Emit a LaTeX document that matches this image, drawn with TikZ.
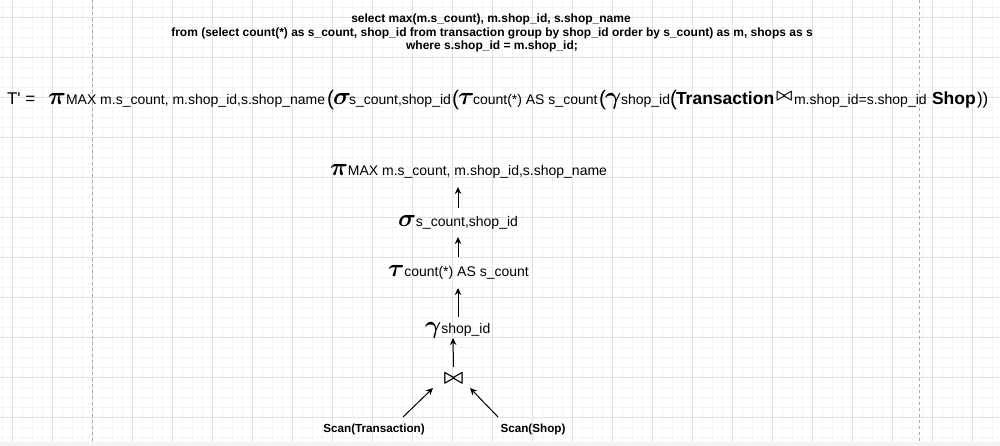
\documentclass[tikz,border=0pt]{standalone}
\usepackage{amsmath}
\usepackage{fontspec}
\setmainfont{Liberation Sans}[Ligatures=TeXOff]
\usetikzlibrary{arrows.meta,calc}
\definecolor{minorgrid}{HTML}{F5F5F5}
\definecolor{majorgrid}{HTML}{E1E1E1}
\definecolor{pagedash}{HTML}{A8A8A8}
\definecolor{bandgrey}{HTML}{F3F3F3}
\newcommand{\fsz}[1]{\fontsize{#1}{#1}\selectfont}
\newcommand{\gk}[1]{{\fsz{24}$\boldsymbol{#1}$}}
\newcommand{\bwt}{$\boldsymbol{\bowtie}$}
\tikzset{
  txt/.style={inner sep=0pt, outer sep=0pt, anchor=base west, text=black},
  sub/.style={txt, font=\fsz{14}},
  greek/.style={txt},
  paren/.style={txt, font=\fsz{21}},
  bigbold/.style={txt, font=\fsz{17.5}\bfseries},
  sql/.style={inner sep=0pt, anchor=base, font=\fsz{12}\bfseries},
  scanlbl/.style={inner sep=0pt, anchor=base, font=\fsz{11.7}\bfseries},
  arr/.style={draw=black, line width=1pt, -{Stealth[length=7pt,width=6.5pt]}},
  minorline/.style={draw=minorgrid, line width=1pt},
  majorline/.style={draw=majorgrid, line width=1pt},
}
\begin{document}
\begin{tikzpicture}[x=1pt,y=-1pt]
\useasboundingbox (0,0) rectangle (1000,446);
\fill[white] (0,0) rectangle (1000,446);
% grid
\foreach \i in {0,...,99} { \draw[minorline] ({2.3+10*\i},0) -- ({2.3+10*\i},446); }
\foreach \j in {0,...,43} { \draw[minorline] (0,{7.3+10*\j}) -- (1000,{7.3+10*\j}); }
\foreach \i in {0,...,24} { \draw[majorline] ({12.3+40*\i},0) -- ({12.3+40*\i},446); }
\foreach \j in {0,...,10} { \draw[majorline] (0,{17.3+40*\j}) -- (1000,{17.3+40*\j}); }
\draw[pagedash, line width=1pt, dash pattern=on 3pt off 3pt] (92.3,0) -- (92.3,446);
\draw[pagedash, line width=1pt, dash pattern=on 3pt off 3pt] (919,0) -- (919,446);
\fill[bandgrey] (0,442) rectangle (1000,446);

% SQL query
\node[sql] (q1) at (491,23) {select max(m.s\_count), m.shop\_id, s.shop\_name};
\node[sql] (q2) at (492,37) {from (select count(*) as s\_count, shop\_id from transaction group by shop\_id order by s\_count) as m, shops as s};
\node[sql] (q3) at (492,50) {where s.shop\_id = m.shop\_id;};

% formula
\node[txt, font=\fsz{17}] (ft) at (7,105) {T' =};
\node[greek] (fpi) at (48,105) {\gk{\pi}};
\node[sub] (fpis) at (66,105) {MAX m.s\_count, m.shop\_id,s.shop\_name};
\node[paren] (fp1) at (327,106) {(};
\node[greek] (fsig) at (333,105) {\gk{\sigma}};
\node[sub] (fsigs) at (349,105) {s\_count,shop\_id};
\node[paren] (fp2) at (452,106) {(};
\node[greek] (ftau) at (458,105) {\gk{\tau}};
\node[sub] (ftaus) at (473,105) {count(*) AS s\_count};
\node[paren] (fp3) at (599,106) {(};
\node[greek] (fgam) at (605,105) {\gk{\gamma}};
\node[sub] (fgams) at (621,105) {shop\_id};
\node[paren] (fp4) at (670,106) {(};
\node[bigbold] (ftr) at (676,105) {Transaction};
\node[txt, font=\fsz{19}] (fjoin) at (776,101) {\bwt};
\node[sub] (fjs) at (794,105) {m.shop\_id=s.shop\_id};
\node[bigbold] (fshop) at (932,105) {Shop};
\node[txt, font=\fsz{17}] (fcl) at (977,105) {))};

% tree
\node[txt] (pirow) at (330,176) {\gk{\pi}{\fsz{14}MAX m.s\_count, m.shop\_id,s.shop\_name}};
\node[txt] (sigrow) at (398,226) {\gk{\sigma}{\fsz{14}s\_count,shop\_id}};
\node[txt] (taurow) at (388,276) {\gk{\tau}{\fsz{14}count(*) AS s\_count}};
\node[txt] (gamrow) at (425,333) {\gk{\gamma}{\fsz{14}shop\_id}};
\node[inner sep=0pt, font=\fsz{21}] (join) at (453.5,379) {\bwt};
\node[scanlbl] (scant) at (374,432) {Scan(Transaction)};
\node[scanlbl] (scans) at (533,432) {Scan(Shop)};

\draw[arr] ($(sigrow.base west)+(60,-18)$) -- ($(pirow.base west)+(128,11)$);
\draw[arr] ($(taurow.base west)+(70,-19)$) -- ($(sigrow.base west)+(60,11)$);
\draw[arr] ($(gamrow.base west)+(33,-16)$) -- ($(taurow.base west)+(70,12)$);
\draw[arr] ($(join.center)+(0,-12)$) -- ($(gamrow.base west)+(28,5)$);
\draw[arr] ($(scant.base)+(29,-15)$) -- ($(join.center)+(-20.5,9)$);
\draw[arr] ($(scans.base)+(-35,-15)$) -- ($(join.center)+(16.5,9)$);
\end{tikzpicture}
\end{document}
